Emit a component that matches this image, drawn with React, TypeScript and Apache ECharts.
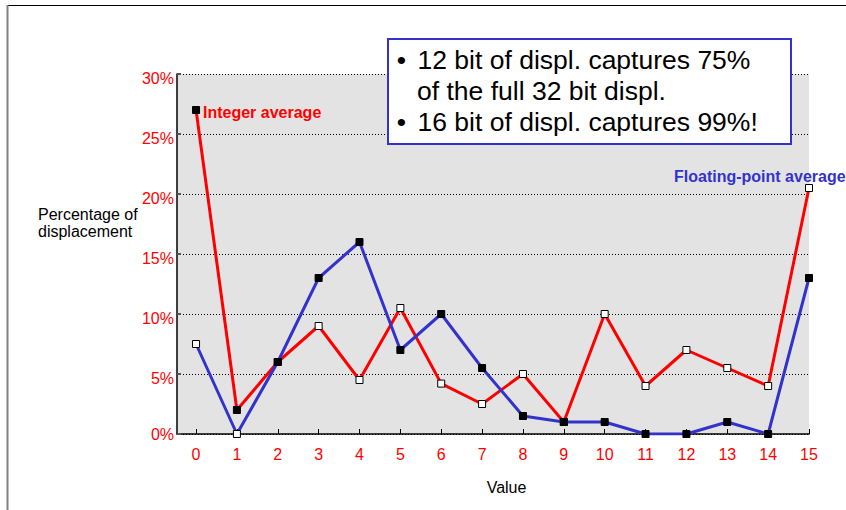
import React, { useEffect, useRef } from "react";
import * as echarts from "echarts";

const categories = [0, 1, 2, 3, 4, 5, 6, 7, 8, 9, 10, 11, 12, 13, 14, 15];
const integerAverage = [27, 2, 6, 9, 4.5, 10.5, 4.2, 2.5, 5, 1, 10, 4, 7, 5.5, 4, 20.5];
const floatAverage = [7.5, 0, 6, 13, 16, 7, 10, 5.5, 1.5, 1, 1, 0, 0, 1, 0, 13];
const yTicks = [0, 5, 10, 15, 20, 25, 30];
const seriesNames = ["Integer average", "Floating-point average"];
const noteLines = ["12 bit of displ. captures 75%", "of the full 32 bit displ.", "16 bit of displ. captures 99%!"];
const yAxisTitle = ["Percentage of", "displacement"];
const xAxisTitle = "Value";

// indices whose marker fill is swapped in the reference
const integerDarkMarkers = [0, 1];
const floatLightMarkers = [0, 1];

const FONT = "'Liberation Sans', Arial, sans-serif";
const RED = "#ff0000";
const BLUE = "#3333cc";

export default function App() {
  const ref = useRef<HTMLDivElement>(null);
  useEffect(() => {
    if (!ref.current) return;
    const chart = echarts.init(ref.current, null, { renderer: "svg" });
    const mk = (vals: number[], dark: (i: number) => boolean) =>
      vals.map((v, i) => ({
        value: [categories[i], v],
        itemStyle: { color: dark(i) ? "#000000" : "#ffffff", borderColor: "#000000", borderWidth: 1 },
      }));
    const labelStyle = { color: RED, fontSize: 16, fontFamily: FONT };
    chart.setOption({
      animation: false,
      backgroundColor: "#ffffff",
      textStyle: { fontFamily: FONT },
      grid: {
        left: 177,
        top: 74,
        width: 632,
        height: 360,
        show: true,
        backgroundColor: "#e3e3e3",
        borderWidth: 0,
      },
      xAxis: {
        type: "value",
        min: -0.466,
        max: 15,
        axisLine: { show: true, onZero: false, lineStyle: { color: "#000", width: 1.5 } },
        axisTick: { show: true, inside: true, length: 5, customValues: categories, lineStyle: { color: "#000" } },
        axisLabel: { customValues: categories, color: RED, fontSize: 16, margin: 12, fontFamily: FONT },
        splitLine: { show: false },
      },
      yAxis: {
        type: "value",
        min: 0,
        max: 30,
        interval: 5,
        axisLine: { show: true, onZero: false, lineStyle: { color: "#000", width: 1.5 } },
        axisTick: { show: true, inside: true, length: 4, lineStyle: { color: "#555", width: 2 } },
        axisLabel: {
          ...labelStyle,
          margin: 3,
          formatter: (v: number) => (yTicks.includes(v) ? (v === 0 ? `{z|${v}%}` : `{d|${v}%}`) : ""),
          rich: {
            z: { ...labelStyle },
            d: { ...labelStyle, padding: [9, 0, 0, 0] },
          },
        },
        splitLine: { show: true, lineStyle: { color: "#000", width: 1, type: [1, 2] } },
      },
      series: [
        {
          name: seriesNames[0],
          type: "line",
          data: mk(integerAverage, (i) => integerDarkMarkers.includes(i)),
          symbol: "rect",
          symbolSize: 7,
          lineStyle: { color: RED, width: 3 },
          z: 2,
        },
        {
          name: seriesNames[1],
          type: "line",
          data: mk(floatAverage, (i) => !floatLightMarkers.includes(i)),
          symbol: "rect",
          symbolSize: 7,
          lineStyle: { color: BLUE, width: 3 },
          z: 3,
        },
      ],
      graphic: [
        { type: "line", shape: { x1: 8, y1: 5.5, x2: 846, y2: 5.5 }, style: { stroke: "#000", lineWidth: 1 } },
        { type: "line", shape: { x1: 7.5, y1: 5, x2: 7.5, y2: 510 }, style: { stroke: "#808080", lineWidth: 2 } },
        {
          type: "rect",
          shape: { x: 388, y: 39, width: 403, height: 105 },
          style: { fill: "#ffffff", stroke: BLUE, lineWidth: 2 },
          z: 10,
        },
        { type: "text", x: 401.5, y: 60, z: 11, style: { text: "•", font: `26.5px ${FONT}`, fill: "#000", align: "center", verticalAlign: "middle" } },
        { type: "text", x: 417.5, y: 60, z: 11, style: { text: noteLines[0], font: `26.5px ${FONT}`, fill: "#000", verticalAlign: "middle" } },
        { type: "text", x: 417, y: 91, z: 11, style: { text: noteLines[1], font: `26.5px ${FONT}`, fill: "#000", verticalAlign: "middle" } },
        { type: "text", x: 401.5, y: 122, z: 11, style: { text: "•", font: `26.5px ${FONT}`, fill: "#000", align: "center", verticalAlign: "middle" } },
        { type: "text", x: 417.5, y: 122, z: 11, style: { text: noteLines[2], font: `26.5px ${FONT}`, fill: "#000", verticalAlign: "middle" } },
        { type: "text", x: 203, y: 112, z: 11, style: { text: seriesNames[0], font: `bold 16px ${FONT}`, fill: RED, verticalAlign: "middle" } },
        { type: "text", x: 674, y: 176, z: 11, style: { text: seriesNames[1], font: `bold 16px ${FONT}`, fill: BLUE, verticalAlign: "middle" } },
        { type: "text", x: 38, y: 214, style: { text: yAxisTitle[0], font: `16px ${FONT}`, fill: "#000", verticalAlign: "middle" } },
        { type: "text", x: 38, y: 231.5, style: { text: yAxisTitle[1], font: `16px ${FONT}`, fill: "#000", verticalAlign: "middle" } },
        { type: "text", x: 506.5, y: 487, style: { text: xAxisTitle, font: `16px ${FONT}`, fill: "#000", align: "center", verticalAlign: "middle" } },
      ],
    });
    return () => chart.dispose();
  }, []);
  return <div ref={ref} style={{ position: "fixed", left: 0, top: 0, width: 846, height: 510 }} />;
}
